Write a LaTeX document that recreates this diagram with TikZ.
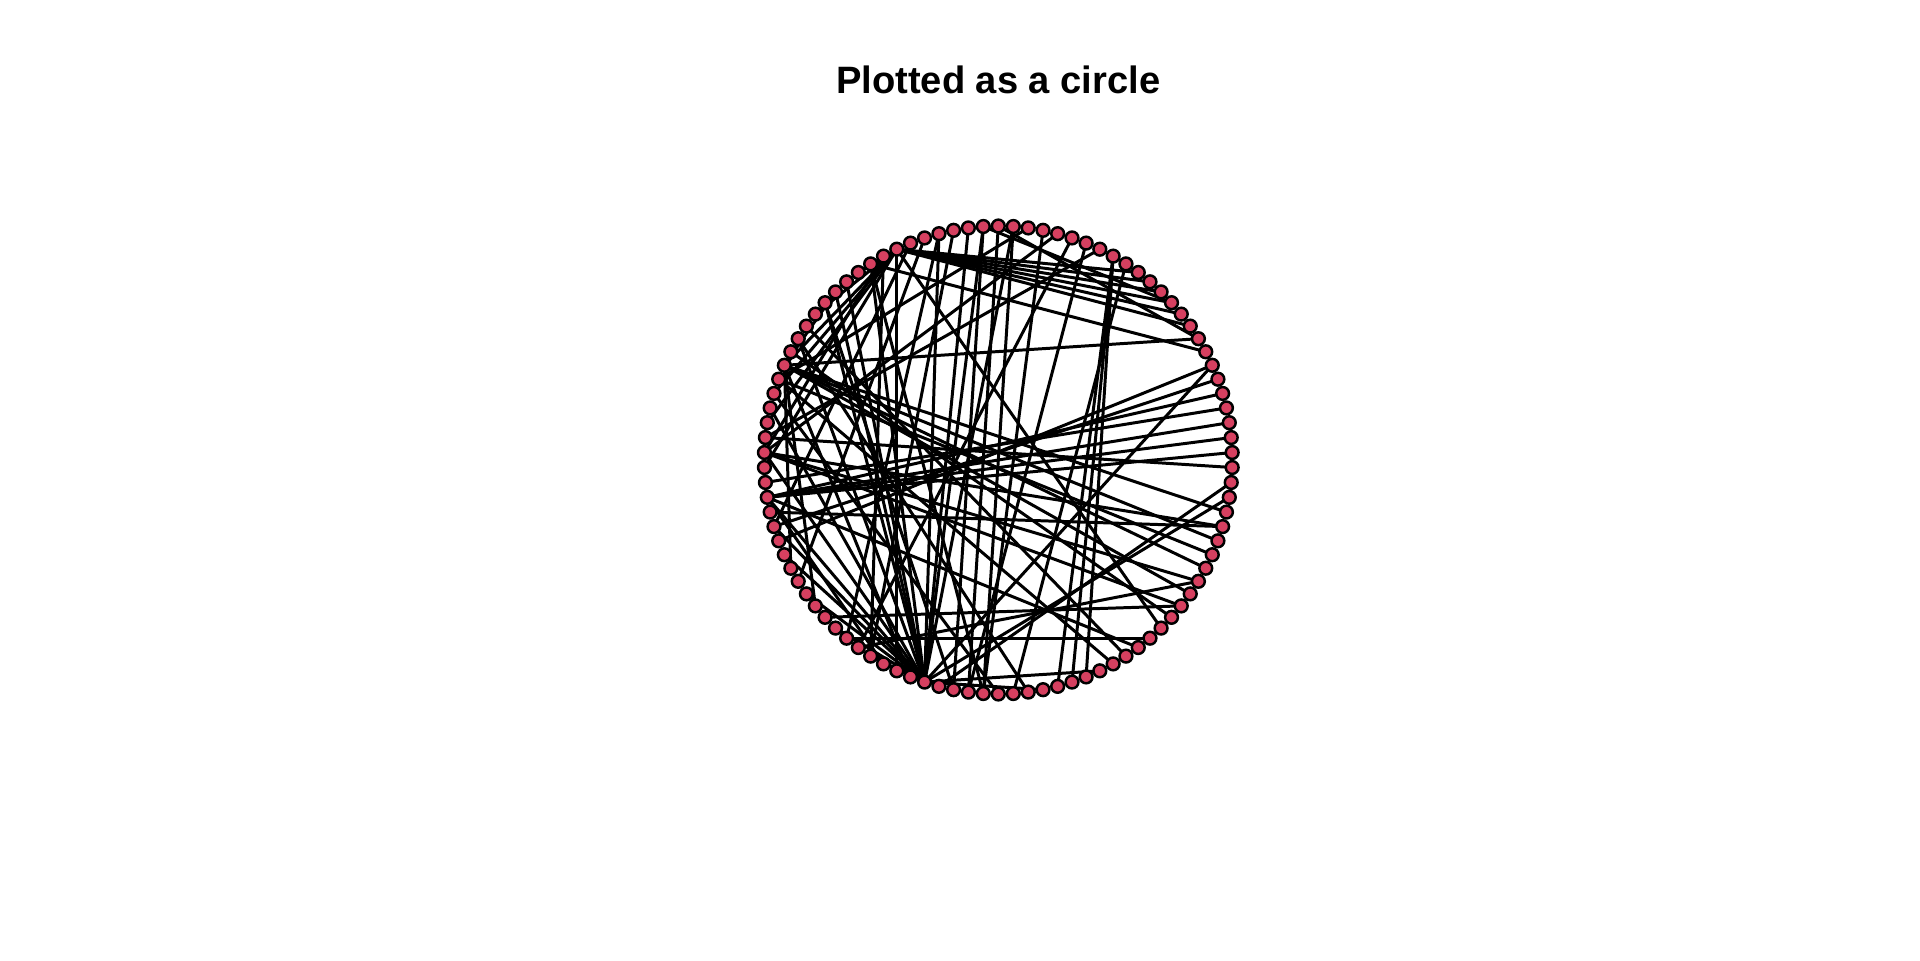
\documentclass[tikz,border=0pt]{standalone}
\usepackage{fontspec}
\setmainfont{Liberation Sans}
\usetikzlibrary{calc}
\definecolor{vfill}{RGB}{214,64,96}
\pgfdeclarelayer{bg}
\pgfdeclarelayer{edgelayer}
\pgfsetlayers{bg,edgelayer,main}
\tikzset{
  vtx/.style={circle,draw=black,fill=vfill,line width=0.7pt,minimum size=0.128cm,inner sep=0pt,outer sep=0pt},
  link/.style={black,line width=0.85pt},
  titletext/.style={font=\fontsize{10.85}{13}\selectfont\bfseries,anchor=base,inner sep=0pt}
}
\begin{document}
\begin{tikzpicture}
\begin{pgfonlayer}{bg}
\fill[white] (0,0) rectangle (19.2,9.6);
\end{pgfonlayer}
\useasboundingbox (0,0) rectangle (19.2,9.6);
\coordinate (C) at (9.983,5.0);
\foreach \j in {0,...,97}
  \node[vtx] (v\j) at ($(C)+({90+\j*3.673469}:2.34)$) {};
\begin{pgfonlayer}{edgelayer}
\foreach \a/\b in {
 44/1,44/2,44/4,44/9,44/11,44/12,44/13,44/16,44/21,44/24,44/27,44/29,44/31,44/34,44/37,44/40,44/52,44/71,44/80,44/56,44/97,
 0/47,0/82,1/46,3/40,4/38,5/33,6/29,8/40,97/48,96/19,91/23,89/50,
 7/83,7/84,7/85,7/86,7/87,7/88,7/14,7/18,7/20,7/22,7/25,7/42,7/10,7/61,
 18/64,18/66,18/68,18/70,18/82,18/32,18/35,18/43,18/12,19/67,
 27/74,27/75,27/76,27/78,27/59,27/41,
 90/53,90/54,90/55,
 24/8,24/63,24/65,24/69,
 45/72,15/58,17/62,19/57,23/73,26/77,28/69,29/79,30/80,36/63,38/60,39/65,
 46/13,48/9,49/20,51/16,81/9,93/39,92/47,94/24,95/48,1/85}
  \draw[link] (v\a.center) -- (v\b.center);
\end{pgfonlayer}
\node[titletext] (title) at (9.983,8.67) {Plotted as a circle};
\end{tikzpicture}
\end{document}
